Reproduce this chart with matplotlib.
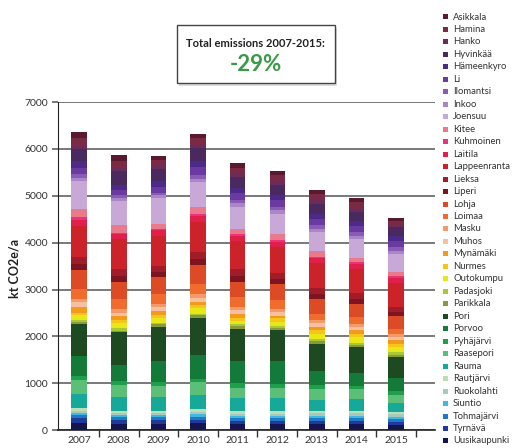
import matplotlib
matplotlib.use("Agg")
import matplotlib.pyplot as plt
from matplotlib.patches import Rectangle
import numpy as np

plt.rcParams['font.family'] = ['Lato', 'DejaVu Sans']

years = ['2007', '2008', '2009', '2010', '2011', '2012', '2013', '2014', '2015']

# legend order (top of the stack first)
municipalities = ['Asikkala', 'Hamina', 'Hanko', 'Hyvinkää', 'Hämeenkyro', 'Li',
                  'Ilomantsi', 'Inkoo', 'Joensuu', 'Kitee', 'Kuhmoinen', 'Laitila',
                  'Lappeenranta', 'Lieksa', 'Liperi', 'Lohja', 'Loimaa', 'Masku',
                  'Muhos', 'Mynämäki', 'Nurmes', 'Outokumpu', 'Padasjoki', 'Parikkala',
                  'Pori', 'Porvoo', 'Pyhäjärvi', 'Raasepori', 'Rauma', 'Rautjärvi',
                  'Ruokolahti', 'Siuntio', 'Tohmajärvi', 'Tyrnävä', 'Uusikaupunki']

colors = ['#5a1a2e', '#7a2a45', '#6b2c5c', '#4a2a5e', '#4b2a8a', '#6a3aa0',
          '#8a5ab5', '#a886c8', '#c8a8d6', '#e87a8c', '#e8347a', '#e0204a',
          '#cc2229', '#a01c28', '#7e1420', '#dc4a26', '#ef6c2e', '#f39a6a',
          '#f5bfa0', '#f39a1e', '#f5c518', '#e8e818', '#a8c838', '#8a9a3a',
          '#1e4a22', '#137a3a', '#1ea04a', '#5cbf78', '#16a898', '#b8e0b0',
          '#a8c8c0', '#40b8e0', '#2078c8', '#1e3a9a', '#141450']

# kt CO2e/a per municipality, same order as the legend
e2007 = [120, 177, 71, 248, 142, 142, 71, 71, 603, 177, 57, 120, 674, 142, 120, 425, 199, 71,
         106, 120, 43, 106, 50, 50, 674, 425, 92, 305, 298, 50, 43, 50, 71, 92, 156]
e2008 = [128, 142, 71, 284, 106, 120, 57, 71, 496, 177, 35, 106, 638, 142, 128, 355, 213, 85,
         78, 85, 64, 113, 50, 35, 686, 348, 92, 248, 298, 57, 35, 50, 57, 85, 128]
e2009 = [92, 120, 71, 248, 128, 120, 57, 64, 553, 106, 21, 120, 652, 128, 106, 369, 199, 71,
         78, 85, 71, 99, 35, 57, 730, 440, 92, 227, 298, 50, 43, 50, 57, 85, 128]
e2010 = [85, 142, 71, 284, 128, 156, 85, 71, 543, 142, 35, 142, 638, 142, 128, 404, 213, 92,
         85, 57, 71, 120, 35, 57, 780, 511, 85, 270, 305, 64, 43, 57, 57, 78, 142]
e2011 = [92, 120, 71, 248, 106, 142, 71, 71, 475, 113, 35, 120, 600, 142, 128, 319, 213, 71,
         71, 85, 78, 64, 43, 50, 695, 475, 92, 227, 270, 57, 50, 50, 50, 78, 121]
e2012 = [85, 128, 85, 213, 106, 142, 71, 71, 440, 128, 35, 106, 567, 121, 113, 333, 191, 71,
         71, 57, 71, 85, 43, 50, 669, 489, 92, 199, 284, 57, 50, 50, 50, 78, 121]
e2013 = [85, 142, 71, 213, 106, 142, 71, 71, 411, 121, 35, 106, 532, 121, 113, 312, 128, 71,
         71, 71, 85, 106, 57, 50, 584, 298, 92, 227, 227, 57, 50, 50, 57, 71, 128]
e2014 = [92, 142, 71, 177, 106, 142, 71, 71, 404, 92, 35, 106, 518, 121, 106, 284, 142, 71,
         71, 85, 57, 121, 43, 50, 567, 270, 71, 213, 241, 57, 57, 50, 50, 78, 121]
e2015 = [64, 71, 57, 177, 121, 128, 71, 71, 390, 85, 43, 106, 511, 106, 92, 262, 106, 71,
         57, 85, 71, 106, 57, 50, 440, 284, 92, 177, 177, 57, 50, 57, 50, 71, 106]

emissions = np.array([e2007, e2008, e2009, e2010, e2011, e2012, e2013, e2014, e2015])

fig = plt.figure(figsize=(5.16, 4.48), dpi=100)
ax = fig.add_axes([0.112, 0.040, 0.731, 0.732])

x = np.arange(len(years))
bottom = np.zeros(len(years))
for i in range(len(municipalities) - 1, -1, -1):
    ax.bar(x, emissions[:, i], 0.39, bottom=bottom, color=colors[i], linewidth=0, zorder=3)
    bottom += emissions[:, i]

ax.set_xlim(-0.54, 8.98)
ax.set_ylim(0, 7000)
ax.set_yticks(range(0, 7001, 1000))
ax.yaxis.grid(True, color='#555555', linewidth=1.1, zorder=0)
ax.tick_params(axis='y', length=4, width=1.1, color='#555555', labelsize=7.5,
               labelcolor='#333333', pad=3)

ax.set_xticks(x)
ax.set_xticklabels(years)
ax.set_xticks(np.arange(0.5, 8.6, 1.0), minor=True)
ax.tick_params(axis='x', which='major', length=0, labelsize=7.5, labelcolor='#333333', pad=4)
ax.tick_params(axis='x', which='minor', length=5, width=1, color='#333333', direction='out')

for s in ['top', 'right']:
    ax.spines[s].set_visible(False)
ax.spines['left'].set_color('#222222')
ax.spines['bottom'].set_color('#222222')
ax.spines['bottom'].set_linewidth(1.2)

fig.text(0.029, 0.40, 'kt CO2e/a', rotation=90, ha='center', va='center',
         fontsize=9, fontweight='bold', color='#222222')

# title box with a soft shadow
fig.add_artist(Rectangle((0.347, 0.808), 0.306, 0.129, transform=fig.transFigure,
                         facecolor='#c8c8c8', edgecolor='none', alpha=0.6))
fig.add_artist(Rectangle((0.343, 0.815), 0.306, 0.129, transform=fig.transFigure,
                         facecolor='white', edgecolor='#444444', linewidth=1))
fig.text(0.496, 0.904, 'Total emissions 2007-2015:', ha='center', va='center',
         fontsize=8, fontweight='bold', color='#222222')
fig.text(0.496, 0.855, '-29%', ha='center', va='center',
         fontsize=16, fontweight='bold', color='#3a9a48')

# legend drawn by hand to match the tight spacing
for i, name in enumerate(municipalities):
    ypx = 17 + i * 12.47
    yf = 1 - ypx / 448
    fig.add_artist(Rectangle((443 / 516, yf - 2.5 / 448), 5 / 516, 5 / 448,
                             transform=fig.transFigure, facecolor=colors[i], edgecolor='none'))
    fig.text(453 / 516, yf, name, ha='left', va='center', fontsize=6.8, color='#333333')

fig.savefig('out.png', dpi=100)
